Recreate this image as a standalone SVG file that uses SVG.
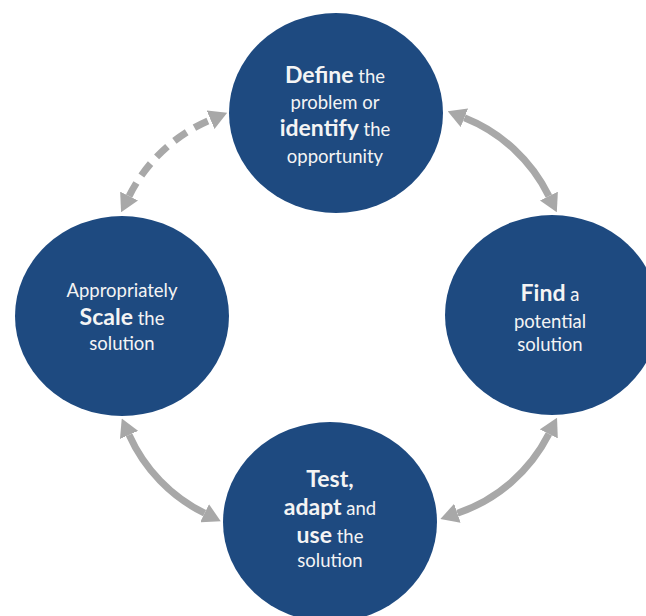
<svg xmlns="http://www.w3.org/2000/svg" width="646" height="616" viewBox="0 0 646 616">
  <defs>
    <style>
      .node { fill: #1e4a80; }
      .t { font-family: Lato, "Open Sans", "Liberation Sans", sans-serif; fill: #f4f4f4; text-anchor: middle; font-size: 18.5px; }
      .b { font-weight: bold; font-size: 23px; }
      .conn { fill: none; stroke: #a8a8a8; stroke-width: 7; }
      .dash { stroke-dasharray: 15 9; }
    </style>
    <marker id="ah" viewBox="0 0 18 20" refX="0" refY="10" markerUnits="userSpaceOnUse" markerWidth="18" markerHeight="20" orient="auto-start-reverse">
      <path d="M0,0 L18,10 L0,20 Z" fill="#a8a8a8"/>
    </marker>
  </defs>
  <rect width="646" height="616" fill="#ffffff"/>

  <g id="connectors">
    <path class="conn" d="M464.4,117.8 A160,160 0 0 1 548.9,196.1" marker-start="url(#ah)" marker-end="url(#ah)"/>
    <path class="conn" d="M548.9,433.9 A160,160 0 0 1 457.4,513.2" marker-start="url(#ah)" marker-end="url(#ah)"/>
    <path class="conn" d="M129.1,434.9 A160,160 0 0 0 204.6,513.2" marker-start="url(#ah)" marker-end="url(#ah)"/>
    <path class="conn dash" d="M129.1,196.1 A160,160 0 0 1 210.6,119.8" marker-start="url(#ah)" marker-end="url(#ah)"/>
  </g>

  <g id="node-define">
    <ellipse class="node" cx="336" cy="113" rx="107" ry="100"/>
    <text class="t" x="335" y="83"><tspan class="b">Define</tspan> the</text>
    <text class="t" x="335" y="109">problem or</text>
    <text class="t" x="335" y="136"><tspan class="b">identify</tspan> the</text>
    <text class="t" x="335" y="163">opportunity</text>
  </g>

  <g id="node-find">
    <ellipse class="node" cx="552" cy="315" rx="107" ry="100"/>
    <text class="t" x="550" y="301"><tspan class="b">Find</tspan> a</text>
    <text class="t" x="550" y="328">potential</text>
    <text class="t" x="550" y="351">solution</text>
  </g>

  <g id="node-test">
    <ellipse class="node" cx="330" cy="522" rx="107" ry="100"/>
    <text class="t" x="330" y="487"><tspan class="b">Test,</tspan></text>
    <text class="t" x="330" y="515"><tspan class="b">adapt</tspan> and</text>
    <text class="t" x="330" y="543"><tspan class="b">use</tspan> the</text>
    <text class="t" x="330" y="567">solution</text>
  </g>

  <g id="node-scale">
    <ellipse class="node" cx="122" cy="316" rx="107" ry="100"/>
    <text class="t" x="122" y="297">Appropriately</text>
    <text class="t" x="122" y="325"><tspan class="b">Scale</tspan> the</text>
    <text class="t" x="122" y="350">solution</text>
  </g>
</svg>
